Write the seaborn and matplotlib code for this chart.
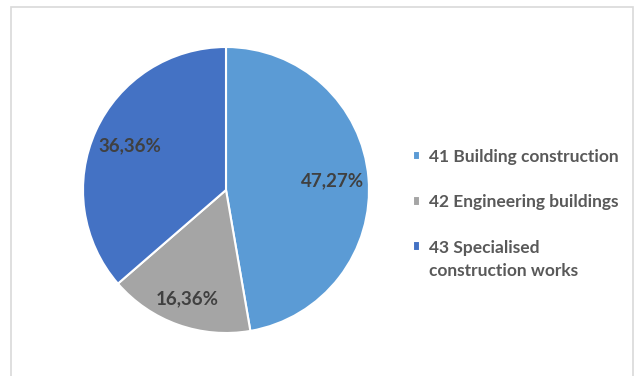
import numpy as np
import matplotlib
matplotlib.use("Agg")
import matplotlib.pyplot as plt
from matplotlib.patches import Rectangle
import seaborn as sns

categories = ["41 Building construction", "42 Engineering buildings",
              "43 Specialised\nconstruction works"]
shares = [47.27, 16.36, 36.36]
colors = ["#5B9BD5", "#A5A5A5", "#4472C4"]
label_dist = [0.75, 0.81, 0.74]

sns.set_theme(style="white")
plt.rcParams["font.family"] = ["Lato", "DejaVu Sans"]

W, H = 634, 376
fig = plt.figure(figsize=(W / 100, H / 100), dpi=100)
fig.patch.set_facecolor("white")

# light grey chart-area frame (bottom edge runs off the image)
fig.patches.append(Rectangle((10.5 / W, -0.2), 622 / W, 1.2 - 6.5 / H,
                             transform=fig.transFigure, fill=False,
                             edgecolor="#D9D9D9", linewidth=1.2))

cx, cy, r = 226, 190, 143
ax = fig.add_axes([(cx - r) / W, (H - cy - r) / H, 2 * r / W, 2 * r / H])
wedges, _ = ax.pie(shares, colors=colors, startangle=90, counterclock=False,
                   wedgeprops=dict(edgecolor="white", linewidth=1.5))
ax.set_xlim(-1, 1)
ax.set_ylim(-1, 1)
ax.set_aspect("equal")
ax.axis("off")

for w, v, d in zip(wedges, shares, label_dist):
    ang = np.deg2rad((w.theta1 + w.theta2) / 2)
    ax.text(d * np.cos(ang), d * np.sin(ang), f"{v:.2f}%".replace(".", ","),
            ha="center", va="center", fontsize=13.5, fontweight="bold",
            color="#404040")

fs = 12.5
line_sp = 1.55
leg = fig.legend(wedges, categories, loc="upper left",
                 bbox_to_anchor=(404 / W, 1 - 140 / H),
                 bbox_transform=fig.transFigure, frameon=False,
                 fontsize=fs, handlelength=0.45, handleheight=0.45,
                 handletextpad=0.5, labelspacing=1.7, borderpad=0)
for t in leg.get_texts():
    t.set_color("#595959")
    t.set_fontweight("bold")
    t.set_linespacing(line_sp)

# keep each key square level with the first line of its label
for h, lab in zip(leg.legend_handles, categories):
    extra = lab.count("\n")
    if extra:
        h.set_y(h.get_y() + extra * fs * line_sp / 2)

fig.savefig("out.png", dpi=100)
